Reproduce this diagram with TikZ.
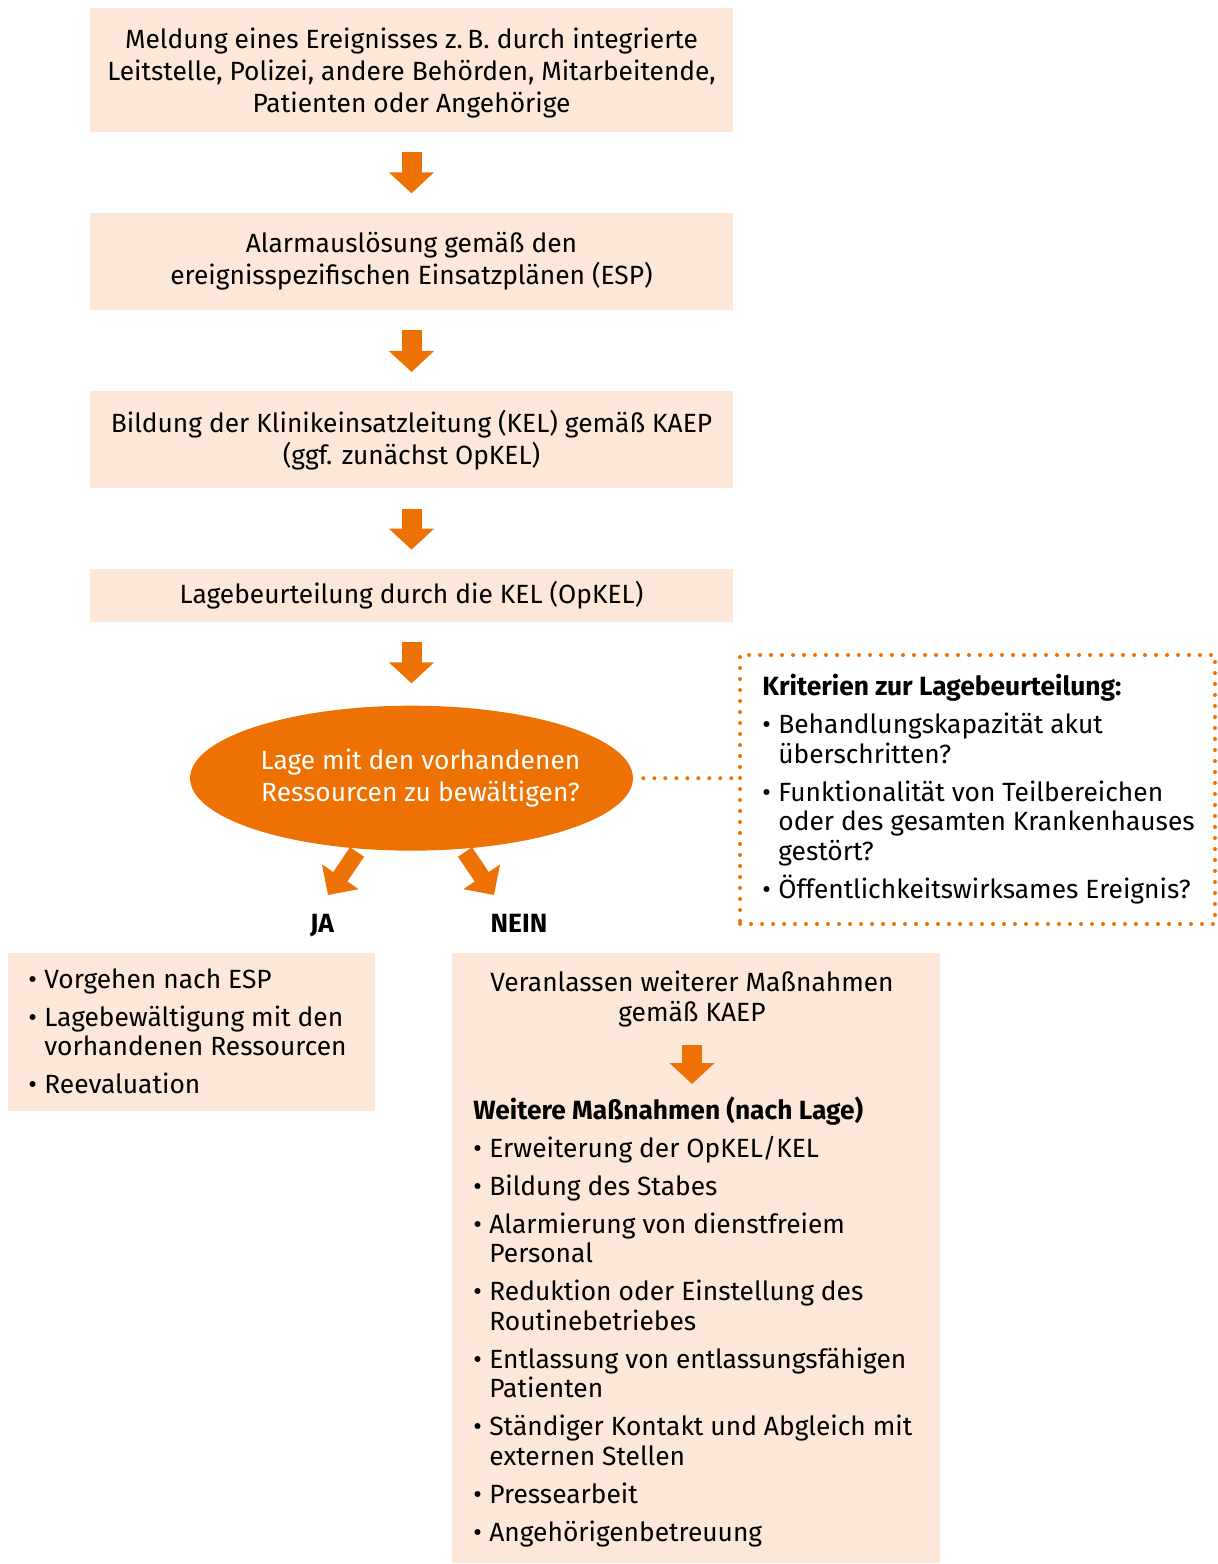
\documentclass[tikz,border=0pt]{standalone}
\usepackage{fontspec}
\setmainfont{Fira Sans}
\usetikzlibrary{shapes.geometric, arrows.meta, positioning, calc}
\definecolor{kel_orange}{HTML}{EE7203}
\definecolor{kel_sand}{HTML}{FCE7D8}
\colorlet{kelorange}{kel_orange}
\colorlet{kelsand}{kel_sand}
\newcommand{\kb}{\makebox[0.32cm][l]{\textbullet}}
\newcommand{\kin}{\hspace*{0.32cm}}
\tikzset{
  stepbox/.style={rectangle,fill=kelsand,minimum width=12.86cm,inner sep=0pt,align=center,font=\fontsize{15}{18.2}\selectfont},
  areabox/.style={rectangle,fill=kelsand,inner sep=0pt},
  decision/.style={ellipse,fill=kelorange,text=white,minimum width=8.86cm,minimum height=2.9cm,inner sep=-1cm,align=center,font=\fontsize{15}{18.2}\selectfont},
  itemlist/.style={inner sep=0pt,align=left,font=\fontsize{15}{16.8}\selectfont},
  answer/.style={inner sep=0pt,anchor=base,font=\fontsize{15}{16.8}\selectfont\bfseries},
  blockarrow/.style={draw=kelorange,line width=0.4cm,-{Triangle[width=0.88cm,length=0.42cm]},shorten <=0.4cm,shorten >=0.38cm},
  diagarrow/.style={draw=kelorange,line width=0.34cm,-{Triangle[width=0.86cm,length=0.44cm]}},
  dotline/.style={draw=kelorange,line width=0.08cm,line cap=round,dash pattern=on 0pt off 0.22cm},
}
\begin{document}
\begin{tikzpicture}[x=0.02cm,y=-0.02cm]
  \useasboundingbox (0,0) rectangle (1217,1564);
  % main chain
  \node[stepbox,minimum height=2.48cm,text depth=0pt] (meldung) at (411.5,70) {Meldung eines Ereignisses z.\,B. durch integrierte\\Leitstelle, Polizei, andere Behörden, Mitarbeitende,\\Patienten oder Angehörige};
  \node[stepbox,minimum height=1.94cm,below=1.6cm of meldung] (alarm) {Alarmauslösung gemäß den\\ereignisspezifischen Einsatzplänen (ESP)};
  \node[stepbox,minimum height=1.94cm,below=1.62cm of alarm] (kel) {Bildung der Klinikeinsatzleitung (KEL) gemäß KAEP\\(ggf. zunächst OpKEL)};
  \node[stepbox,minimum height=1.06cm,below=1.6cm of kel] (lage) {Lagebeurteilung durch die KEL (OpKEL)};
  \node[decision,below=1.66cm of lage] (frage) {\hspace*{0.36cm}Lage mit den vorhandenen\\\hspace*{0.36cm}Ressourcen zu bewältigen?};
  \draw[blockarrow] (meldung) -- (alarm);
  \draw[blockarrow] (alarm) -- (kel);
  \draw[blockarrow] (kel) -- (lage);
  \draw[blockarrow,shorten >=0.44cm] (lage) -- (frage);

  % criteria
  \node[areabox,fill=none,dotline,minimum width=9.5cm,minimum height=5.38cm] (krit) at (977.5,789.5) {};
  \node[itemlist,anchor=north west] (kritlist) at (762,674) {\textbf{Kriterien zur Lagebeurteilung:}\\[0.17cm]
    \kb Behandlungskapazität akut\\\kin überschritten?\\[0.17cm]
    \kb Funktionalität von Teilbereichen\\\kin oder des gesamten Krankenhauses\\\kin gestört?\\[0.17cm]
    \kb Öffentlichkeitswirksames Ereignis?};
  \draw[dotline,shorten <=0.2cm] (frage) -- (frage -| krit.west);

  % answers
  \node[answer] (ja) at (322,932) {JA};
  \node[answer] (nein) at (519,932) {NEIN};
  \coordinate (jastart) at (357,852);
  \coordinate (jaend) at (328,895);
  \coordinate (neinstart) at (465,852);
  \coordinate (neinend) at (494,895);
  \draw[diagarrow] (jastart) -- (jaend);
  \draw[diagarrow] (neinstart) -- (neinend);

  % JA branch
  \node[areabox,minimum width=7.34cm,minimum height=3.16cm] (jabox) at (191.5,1032) {};
  \node[itemlist,anchor=north west] (jalist) at (28,968) {\kb Vorgehen nach ESP\\[0.17cm]
    \kb Lagebewältigung mit den\\\kin vorhandenen Ressourcen\\[0.17cm]
    \kb Reevaluation};

  % NEIN branch
  \node[areabox,minimum width=9.76cm,minimum height=12.2cm] (neinbox) at (696,1258) {};
  \node[itemlist,align=center] (veranlassen) at (692,999) {Veranlassen weiterer Maßnahmen\\gemäß KAEP};
  \node[itemlist,anchor=north west] (massnahmen) at (473,1096) {\textbf{Weitere Maßnahmen (nach Lage)}\\[0.17cm]
    \kb Erweiterung der OpKEL/KEL\\[0.17cm]
    \kb Bildung des Stabes\\[0.17cm]
    \kb Alarmierung von dienstfreiem\\\kin Personal\\[0.17cm]
    \kb Reduktion oder Einstellung des\\\kin Routinebetriebes\\[0.17cm]
    \kb Entlassung von entlassungsfähigen\\\kin Patienten\\[0.17cm]
    \kb Ständiger Kontakt und Abgleich mit\\\kin externen Stellen\\[0.17cm]
    \kb Pressearbeit\\[0.17cm]
    \kb Angehörigenbetreuung};
  \draw[blockarrow,shorten <=0.36cm,shorten >=0.24cm] (veranlassen) -- (veranlassen |- massnahmen.north);
\end{tikzpicture}
\end{document}
